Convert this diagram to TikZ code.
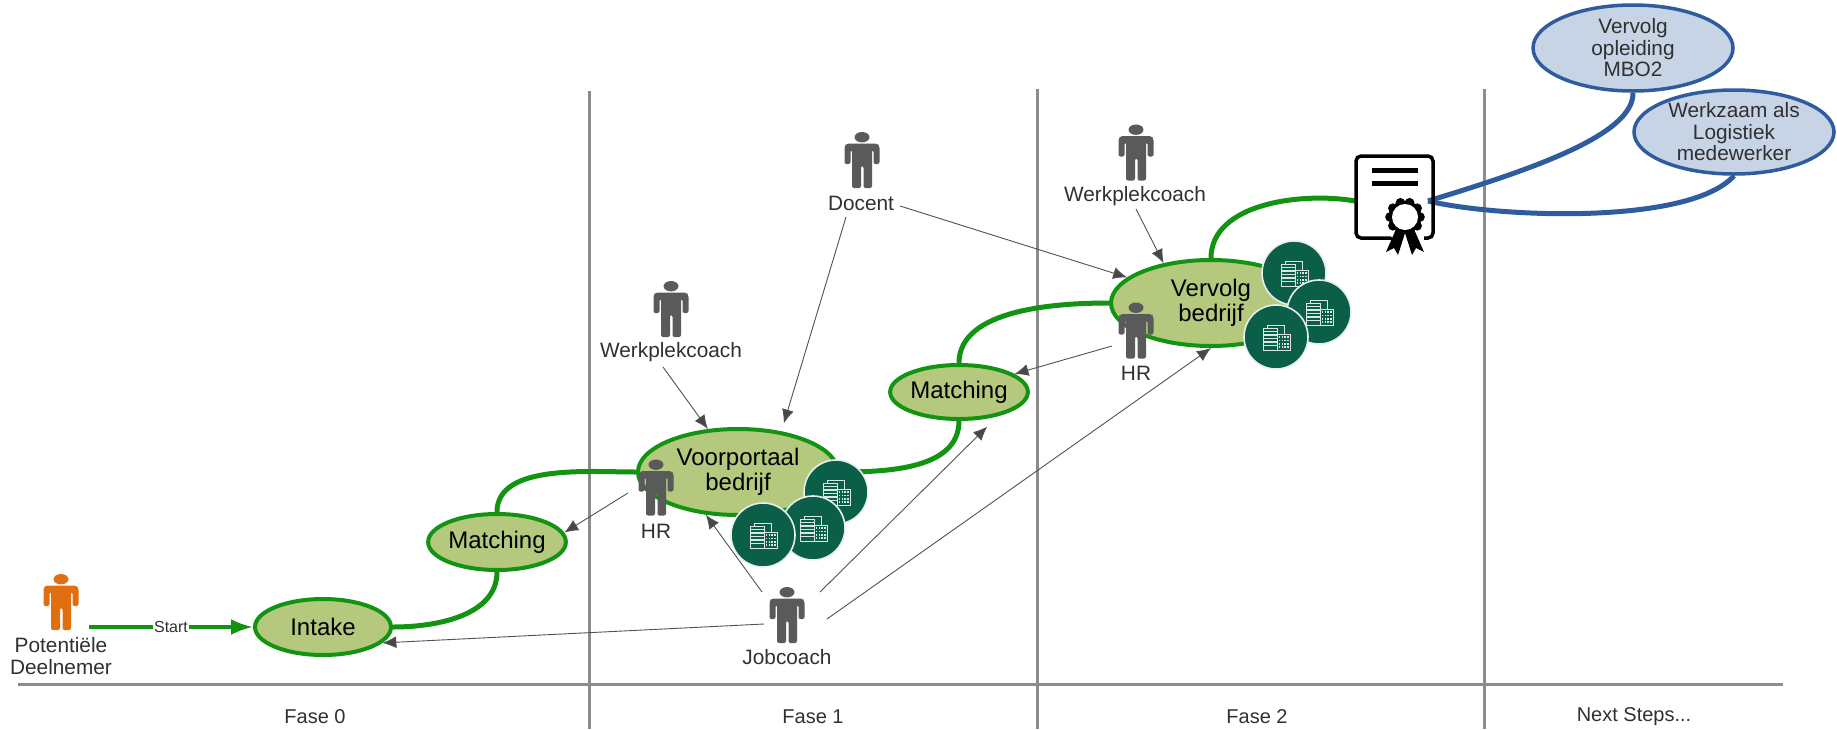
\documentclass[tikz,border=0pt]{standalone}
\usepackage{fontspec}
\setmainfont{Liberation Sans}
\usetikzlibrary{shapes.geometric,arrows.meta}
\definecolor{grn}{HTML}{129412}
\definecolor{olive}{HTML}{B4C87E}
\definecolor{blu}{HTML}{2F5C9E}
\definecolor{lblu}{HTML}{C6D4E6}
\definecolor{divi}{HTML}{8C8C8C}
\definecolor{pers}{HTML}{5A5A5A}
\definecolor{orng}{HTML}{E0700F}
\definecolor{txt}{HTML}{303030}
\definecolor{bld}{HTML}{0B5E48}
\tikzset{
  phase/.style={ellipse,draw=grn,line width=4pt,fill=olive,inner sep=0pt,align=center,text=black,font=\fontsize{24}{25}\selectfont},
  future/.style={ellipse,draw=blu,line width=3.5pt,fill=lblu,inner sep=0pt,align=center,text=txt,font=\fontsize{20.8}{21.5}\selectfont},
  lab/.style={inner sep=0pt,align=center,text=txt,font=\fontsize{20.8}{22}\selectfont},
  faselab/.style={inner sep=0pt,text=txt,font=\fontsize{20}{22}\selectfont},
  route/.style={draw=grn,line width=5pt},
  nextroute/.style={draw=blu,line width=5pt},
  role/.style={draw=pers!90!black,line width=0.9pt,-{Latex[length=14pt,width=12pt,fill=black!72]}},
  divider/.style={draw=divi,line width=3pt},
  personbox/.style={minimum width=35pt,minimum height=56pt,inner sep=0pt},
  bldgbox/.style={circle,minimum size=64pt,inner sep=0pt,fill=bld,draw=white!90!bld,line width=1.6pt}
}
\newcommand\persona[4]{%
  \node[personbox] (#1) at (#2,#3) {};
  \begin{scope}[shift={(#2-17.5,#3-28)},fill=#4]
    \fill (17.5,5.2) ellipse [x radius=7.5,y radius=5.2];
    \fill[rounded corners=2pt] (2,11.5)--(33,11.5)--(35,14)--(35,32)--(29,32)--(29,18)--(27.5,18)--(27.5,56)--(19,56)--(19,34)--(16.5,34)--(16.5,56)--(7.5,56)--(7.5,18)--(6,18)--(6,32)--(0,32)--(0,14)--cycle;
  \end{scope}}
\newcommand\bldg[3]{%
  \node[bldgbox] (#1) at (#2,#3) {};
  \begin{scope}[shift={(#2,#3)},draw=white!85!bld,line width=1pt]
    \draw (-13,-9) rectangle (1,13);
    \foreach \yy in {-5.5,-2,1.5,5,8.5} \draw[line width=1.5pt] (-13,\yy) -- (1,\yy);
    \draw (1,-3) rectangle (14,13);
    \foreach \yy in {0,3.5,7,10} \draw[line width=1.1pt,dash pattern=on 1.4pt off 1.3pt] (3,\yy) -- (13,\yy);
    \draw[line width=0.8pt] (-9,-9) -- (-9,-12) -- (8,-12) -- (8,-3);
  \end{scope}}
\begin{document}
\begin{tikzpicture}[x=1pt,y=-1pt]
\useasboundingbox (0,0) rectangle (1837,729);
% axis
\coordinate (axL) at (18,684); \coordinate (axR) at (1783,684);
\coordinate (d1t) at (589,91); \coordinate (d1b) at (589,729);
\coordinate (d2t) at (1037,89); \coordinate (d2b) at (1037,729);
\coordinate (d3t) at (1484,89); \coordinate (d3b) at (1484,729);
\draw[divider] (axL) -- (axR);
\draw[divider] (d1t) -- (d1b);
\draw[divider] (d2t) -- (d2b);
\draw[divider] (d3t) -- (d3b);
\node[faselab] (f0) at (315,717) {Fase 0};
\node[faselab] (f1) at (813,717) {Fase 1};
\node[faselab] (f2) at (1257,717) {Fase 2};
\node[faselab] (f3) at (1634,717) {Next Steps...};
% phase ellipses
\node[phase,minimum width=136pt,minimum height=56pt] (intake) at (323,627) {Intake};
\node[phase,minimum width=136pt,minimum height=56pt] (m1) at (497,542) {Matching};
\node[phase,minimum width=200pt,minimum height=86pt] (voor) at (738,472) {Voorportaal\\bedrijf};
\node[phase,minimum width=136pt,minimum height=54pt] (m2) at (959,392) {Matching};
\node[phase,minimum width=200pt,minimum height=86pt] (verv) at (1211,303) {Vervolg\\bedrijf};
\node[future,minimum width=200pt,minimum height=86pt] (mbo) at (1633,48) {Vervolg\\opleiding\\MBO2};
\node[future,minimum width=200pt,minimum height=84pt] (werk) at (1734,132) {Werkzaam als\\Logistiek\\medewerker};
% certificate
\node[minimum width=77pt,minimum height=82pt,inner sep=0pt] (cert) at (1394.5,197) {};
\coordinate (certout) at (1428,201);
\coordinate (mboC1) at (1530,170); \coordinate (mboC2) at (1634,135);
\coordinate (wrkC1) at (1500,218); \coordinate (wrkC2) at (1690,225);
% green route
\draw[route] (intake.east) to[out=0,in=-90,looseness=0.95] (m1.south);
\draw[route] (m1.north) to[out=90,in=180,looseness=0.85] (voor.west);
\draw[route] (voor.east) to[out=0,in=-90,looseness=0.95] (m2.south);
\draw[route] (m2.north) to[out=90,in=180,looseness=0.85] (verv.west);
\draw[route] (verv.north) to[out=90,in=170,looseness=0.9] (cert.186);
% blue routes
\draw[nextroute] (certout) .. controls (mboC1) and (mboC2) .. (mbo.south);
\draw[nextroute] (certout) .. controls (wrkC1) and (wrkC2) .. (werk.south);
% certificate drawing
\draw[black,line width=3.5pt,rounded corners=5pt] (1356,156) rectangle (1433,238);
\fill[white] (1405,217) circle (24);
\fill[white] (1395,228) rectangle (1424,240);
\begin{scope}[shift={(1405,217)}]
  \fill[black] (-8,10) -- (-19,35) -- (-11,31) -- (-7,38) -- (0,16) -- (7,38) -- (11,31) -- (19,35) -- (8,10) -- cycle;
  \fill[black] (0,0) circle (16.5);
  \foreach \aa in {0,36,...,324} \fill[black] (\aa:15) circle (4.8);
  \fill[white] (0,0) circle (13);
\end{scope}
\fill[black] (1372,167.5) rectangle (1418,172.5);
\fill[black] (1372,180.5) rectangle (1418,185.5);
% people
\persona{p0}{61}{602}{orng}
\persona{hr1}{656}{487.5}{pers}
\persona{job}{787}{615}{pers}
\persona{doc}{862}{160}{pers}
\persona{wp1}{671}{309}{pers}
\persona{wp2}{1136}{152.5}{pers}
\persona{hr2}{1136}{330.5}{pers}
% labels
\node[lab] (p0l) at (61,656) {Potentiële\\Deelnemer};
\node[lab] (hr1l) at (656,531) {HR};
\node[lab] (jobl) at (787,657) {Jobcoach};
\node[lab] (docl) at (861,203) {Docent};
\node[lab] (wp1l) at (671,352) {Werkplekcoach};
\node[lab] (wp2l) at (1135,196) {Werkplekcoach};
\node[lab] (hr2l) at (1136,373) {HR};
% free ends
\coordinate (sStart) at (89,627);
\coordinate (sJ1) at (764,624);
\coordinate (sH1) at (628,493);
\coordinate (sW1) at (663,367);
\coordinate (sD1) at (846,217);
\coordinate (sD2) at (900,206);
\coordinate (sW2) at (1136,209);
\coordinate (sH2) at (1112,346);
\coordinate (sJ2) at (762,592);
\coordinate (sJ3) at (820,592);
\coordinate (sJ4) at (827,619);
% role connectors
\draw[role] (sJ1) -- (intake.-15);
\draw[role] (sH1) -- (m1.8);
\draw[role] (sW1) -- (voor.125);
\draw[role] (sD1) -- ([shift={(7,-7)}]voor.47);
\draw[role] (sD2) -- (verv.163);
\draw[role] (sW2) -- (verv.140);
\draw[role] (sH2) -- (m2.18);
\draw[role] (sJ2) -- (voor.-127);
\draw[role] (sJ3) -- ([shift={(6,7)}]m2.-51);
\draw[role] (sJ4) -- (verv.south);
% start arrow
\draw[draw=grn,line width=3.5pt,-{Latex[length=22pt,width=16pt]}] (sStart) -- node[fill=white,inner sep=1pt,text=txt,font=\fontsize{16}{18}\selectfont] (st) {Start} (intake.west);
% buildings
\bldg{b1}{836}{492}
\bldg{b2}{813}{528}
\bldg{b3}{763}{535}
\bldg{b4}{1294}{273}
\bldg{b5}{1319}{312}
\bldg{b6}{1276}{337}
\end{tikzpicture}
\end{document}
